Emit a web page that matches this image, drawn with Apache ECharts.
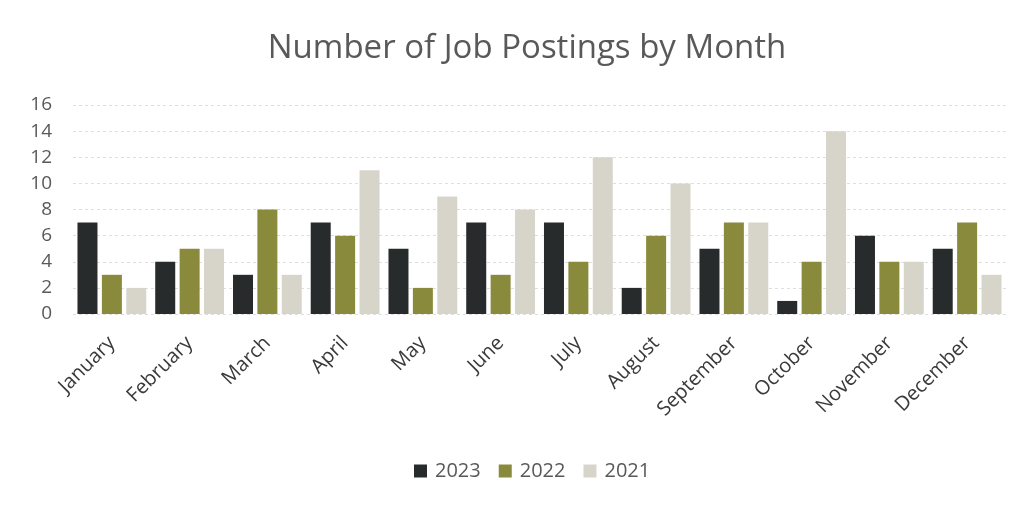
<!DOCTYPE html>
<html>
<head>
<meta charset="utf-8">
<script src="https://cdn.jsdelivr.net/npm/echarts@6/dist/echarts.min.js"></script>
<style>
  html, body { margin: 0; padding: 0; background: #fff; }
  #chart { width: 1029px; height: 506px; }
</style>
</head>
<body>
<div id="chart"></div>
<script>
const months = ['January', 'February', 'March', 'April', 'May', 'June', 'July', 'August', 'September', 'October', 'November', 'December'];
const postings2023 = [7, 4, 3, 7, 5, 7, 7, 2, 5, 1, 6, 5];
const postings2022 = [3, 5, 8, 6, 2, 3, 4, 6, 7, 4, 4, 7];
const postings2021 = [2, 5, 3, 11, 9, 8, 12, 10, 7, 14, 4, 3];
const yTicks = [0, 2, 4, 6, 8, 10, 12, 14, 16];

const font = '"Open Sans", "Noto Sans", sans-serif';
const chart = echarts.init(document.getElementById('chart'));

function bar(name, data, color) {
  return {
    name: name,
    type: 'bar',
    data: data,
    barWidth: 20,
    barGap: '22%',
    itemStyle: { color: color }
  };
}

chart.setOption({
  animation: false,
  backgroundColor: '#ffffff',
  title: {
    text: 'Number of Job Postings by Month',
    left: 522,
    textAlign: 'center',
    top: 27,
    textStyle: { fontFamily: font, fontSize: 33, fontWeight: 'normal', color: '#595959' }
  },
  legend: {
    left: 409,
    top: 456,
    itemWidth: 13,
    itemHeight: 13,
    itemGap: 18,
    icon: 'rect',
    textStyle: { fontFamily: font, fontSize: 20, color: '#595959', padding: [0, 0, 0, 3] },
    data: ['2023', '2022', '2021']
  },
  grid: { left: 73, right: 23, top: 105, bottom: 192 },
  xAxis: {
    type: 'category',
    data: months,
    axisLine: { show: false },
    axisTick: { show: false },
    axisLabel: {
      rotate: 45,
      interval: 0,
      margin: 26,
      fontFamily: font,
      fontSize: 20,
      color: '#3a3a3a'
    }
  },
  yAxis: {
    type: 'value',
    min: yTicks[0],
    max: yTicks[yTicks.length - 1],
    interval: yTicks[1] - yTicks[0],
    axisLine: { show: false },
    axisTick: { show: false },
    axisLabel: { fontFamily: font, fontSize: 19, color: '#595959', margin: 21 },
    splitLine: { lineStyle: { color: '#dedede', type: [3, 3], width: 1 } }
  },
  series: [
    bar('2023', postings2023, '#272b2c'),
    bar('2022', postings2022, '#8a8a3c'),
    bar('2021', postings2021, '#d7d5c9')
  ]
});
</script>
</body>
</html>
